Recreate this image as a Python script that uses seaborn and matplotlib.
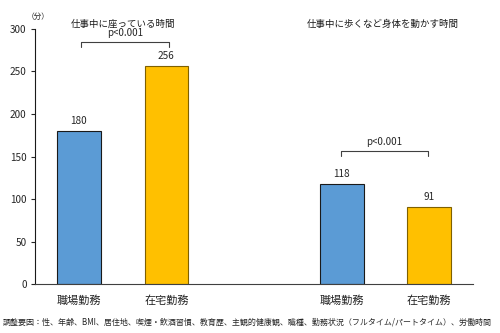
import matplotlib
matplotlib.use("Agg")
import matplotlib.pyplot as plt
import seaborn as sns
import pandas as pd

sns.set_theme(style="white")
plt.rcParams['font.family'] = ['Noto Sans CJK JP', 'DejaVu Sans']

# Data
categories = ["職場勤務", "在宅勤務", "職場勤務", "在宅勤務"]
positions = [0, 1, 3, 4]
values = [180, 256, 118, 91]
work_type = ["職場勤務", "在宅勤務", "職場勤務", "在宅勤務"]
panel_titles = ["仕事中に座っている時間", "仕事中に歩くなど身体を動かす時間"]
p_labels = ["p<0.001", "p<0.001"]
yticks = [0, 50, 100, 150, 200, 250, 300]
footnote = "調整要因：性、年齢、BMI、居住地、喫煙・飲酒習慣、教育歴、主観的健康観、職種、勤務状況（フルタイム/パートタイム）、労働時間"

df = pd.DataFrame({"pos": positions, "value": values, "type": work_type})

fig = plt.figure(figsize=(5, 3.33), dpi=100)
ax = fig.add_axes([0.07, 0.147, 0.876, 0.766])

palette = {"職場勤務": "#5B9BD5", "在宅勤務": "#FFC000"}
sns.barplot(data=df, x="pos", y="value", hue="type", palette=palette,
            native_scale=True, width=0.5, dodge=False, legend=False, ax=ax,
            saturation=1, linewidth=0.8)
edgecols = {"職場勤務": "#1a1a1a", "在宅勤務": "#7f6000"}
for patch in ax.patches:
    x = patch.get_x() + patch.get_width() / 2
    idx = min(range(len(positions)), key=lambda i: abs(positions[i] - x))
    patch.set_edgecolor(edgecols[work_type[idx]])

ax.set_xlim(-0.5, 4.5)
ax.set_ylim(0, 300)
ax.set_yticks(yticks)
ax.set_xticks(positions)
ax.set_xticklabels(categories, fontsize=8, color="#262626")
ax.tick_params(axis="x", length=0, pad=8)
ax.tick_params(axis="y", length=3, width=0.8, labelsize=7.2, colors="#262626",
               left=True, direction="out", pad=3)
ax.set_xlabel("")
ax.set_ylabel("")
for s in ["top", "right"]:
    ax.spines[s].set_visible(False)
ax.spines["left"].set_color("#1a1a1a")
ax.spines["bottom"].set_color("#404040")
ax.spines["left"].set_linewidth(0.8)
ax.spines["bottom"].set_linewidth(0.8)

# value labels
for p, v in zip(positions, values):
    ax.text(p, v + 6, str(v), ha="center", va="bottom", fontsize=7.2, color="#262626")

# panel titles
ax.text(0.5, 306, panel_titles[0], ha="center", va="center", fontsize=6.8,
        color="#1a1a1a", clip_on=False)
ax.text(3.47, 306, panel_titles[1], ha="center", va="center", fontsize=6.8,
        color="#1a1a1a", clip_on=False)
ax.text(-0.47, 314, "（分）", ha="center", va="center", fontsize=5.5,
        color="#262626", clip_on=False)

# significance brackets
def bracket(x0, x1, y, h, label):
    ax.plot([x0, x0, x1, x1], [y - h, y, y, y - h], color="#404040", lw=0.8,
            clip_on=False)
    ax.text((x0 + x1) / 2, y + 4, label, ha="center", va="bottom", fontsize=7,
            color="#262626", clip_on=False)

bracket(0.03, 1.03, 285, 6, p_labels[0])
bracket(2.99, 3.99, 157, 6, p_labels[1])

fig.text(0.006, 1 - 321.7 / 333, footnote, ha="left", va="center",
         fontsize=5.75, color="#262626")

fig.savefig("out.png", dpi=100)
